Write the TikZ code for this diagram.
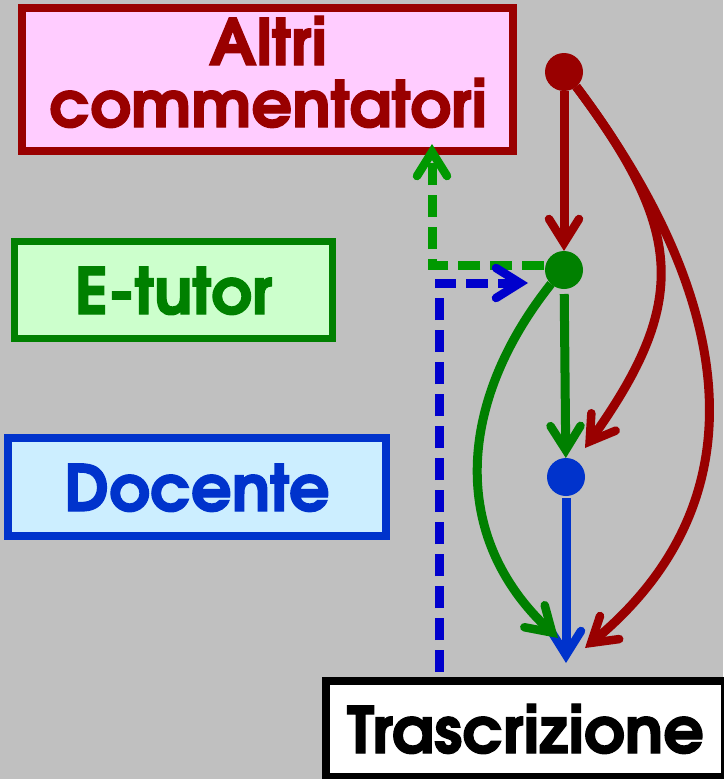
\documentclass[tikz,border=0pt]{standalone}
\usepackage{fontspec}
\setmainfont{texgyreadventor}[Extension=.otf, UprightFont=*-regular, BoldFont=*-bold, ItalicFont=*-italic, BoldItalicFont=*-bolditalic, BoldFeatures={FakeBold=2}]
\usetikzlibrary{arrows.meta,calc}

\definecolor{bgc}{HTML}{C0C0C0}
\definecolor{redc}{HTML}{990000}
\definecolor{pinkf}{HTML}{FFCCFF}
\definecolor{grnc}{HTML}{008000}
\definecolor{grnf}{HTML}{CCFFCC}
\definecolor{grnd}{HTML}{009900}
\definecolor{bluc}{HTML}{0033CC}
\definecolor{bluf}{HTML}{CCEEFF}
\definecolor{blud}{HTML}{0000CC}

\tikzset{
  boxfont/.style={font=\fontsize{64}{62}\selectfont\bfseries},
  box/.style={draw, rectangle, inner sep=0pt, line width=8pt,
    text height=48pt, text depth=0pt, boxfont},
  dot/.style={circle, minimum size=38pt, inner sep=0pt, outer sep=0pt},
  headtip/.style={-{Straight Barb[length=24pt, width=30pt, line width=8.5pt, line cap=round, line join=miter]}},
  link/.style={headtip, line width=9pt},
  dlink/.style={headtip, line width=9pt, dash pattern=on 22pt off 10pt},
}

\begin{document}
\begin{tikzpicture}[x=1pt, y=1pt]
  \useasboundingbox (0,0) rectangle (723,-779);
  \fill[bgc] (0,0) rectangle (723,-779);

  % role boxes
  \node[box, draw=redc, fill=pinkf,
        minimum width=491pt, minimum height=143pt]
        (altri) at (267.5,-79.5) {};
  \node[boxfont, text=redc, align=center, anchor=base, inner sep=0pt]
        (altritxt) at (268,-127) {Altri\\commentatori};
  \node[box, draw=grnc, fill=grnf, text=grnc, line width=7pt,
        minimum width=318pt, minimum height=97pt]
        (etutor) at (173.5,-290) {E-tutor};
  \node[box, draw=bluc, fill=bluf, text=bluc,
        minimum width=378pt, minimum height=98pt]
        (docente) at (197,-487) {Docente};
  \node[box, draw=black, fill=white, text=black,
        minimum width=399pt, minimum height=96pt]
        (trasc) at (525.5,-729) {Trascrizione};

  % dots of the chain
  \node[dot, fill=redc] (rdot) at (564,-72) {};
  \node[dot, fill=grnc] (gdot) at (564,-270) {};
  \node[dot, fill=bluc] (bdot) at (566,-477) {};

  % arrival points above the transcript
  \coordinate (tB) at ($(trasc.north)+(40.5,14)$);
  \coordinate (tG) at ($(trasc.north)+(32.5,39)$);
  \coordinate (tR) at ($(trasc.north)+(59.5,29)$);

  % straight chain
  \draw[link, redc] (rdot) -- (gdot);
  \draw[link, grnc, shorten <=5pt] (gdot) -- (bdot);
  \draw[link, bluc, shorten <=2pt] (bdot) -- (tB);

  % curved links
  \draw[link, redc] (rdot.-50) .. controls +(108,-144) and +(104,146) .. ($(bdot)+(19,29)$);
  \draw[link, redc] (rdot.-50) .. controls +(148,-197) and +(189,157) .. (tR);
  \draw[link, grnc] (gdot.-133) .. controls +(-93,-117) and +(-110,102) .. (tG);

  % dashed feedback links
  \draw[dlink, grnd] ($(gdot.west)+(-1,5)$) -| ($(altri.south)+(164.5,11)$);
  \draw[dlink, blud] ($(trasc.north)+(-86.5,5)$) |- ($(gdot.west)+(-17,-13)$);
\end{tikzpicture}
\end{document}
